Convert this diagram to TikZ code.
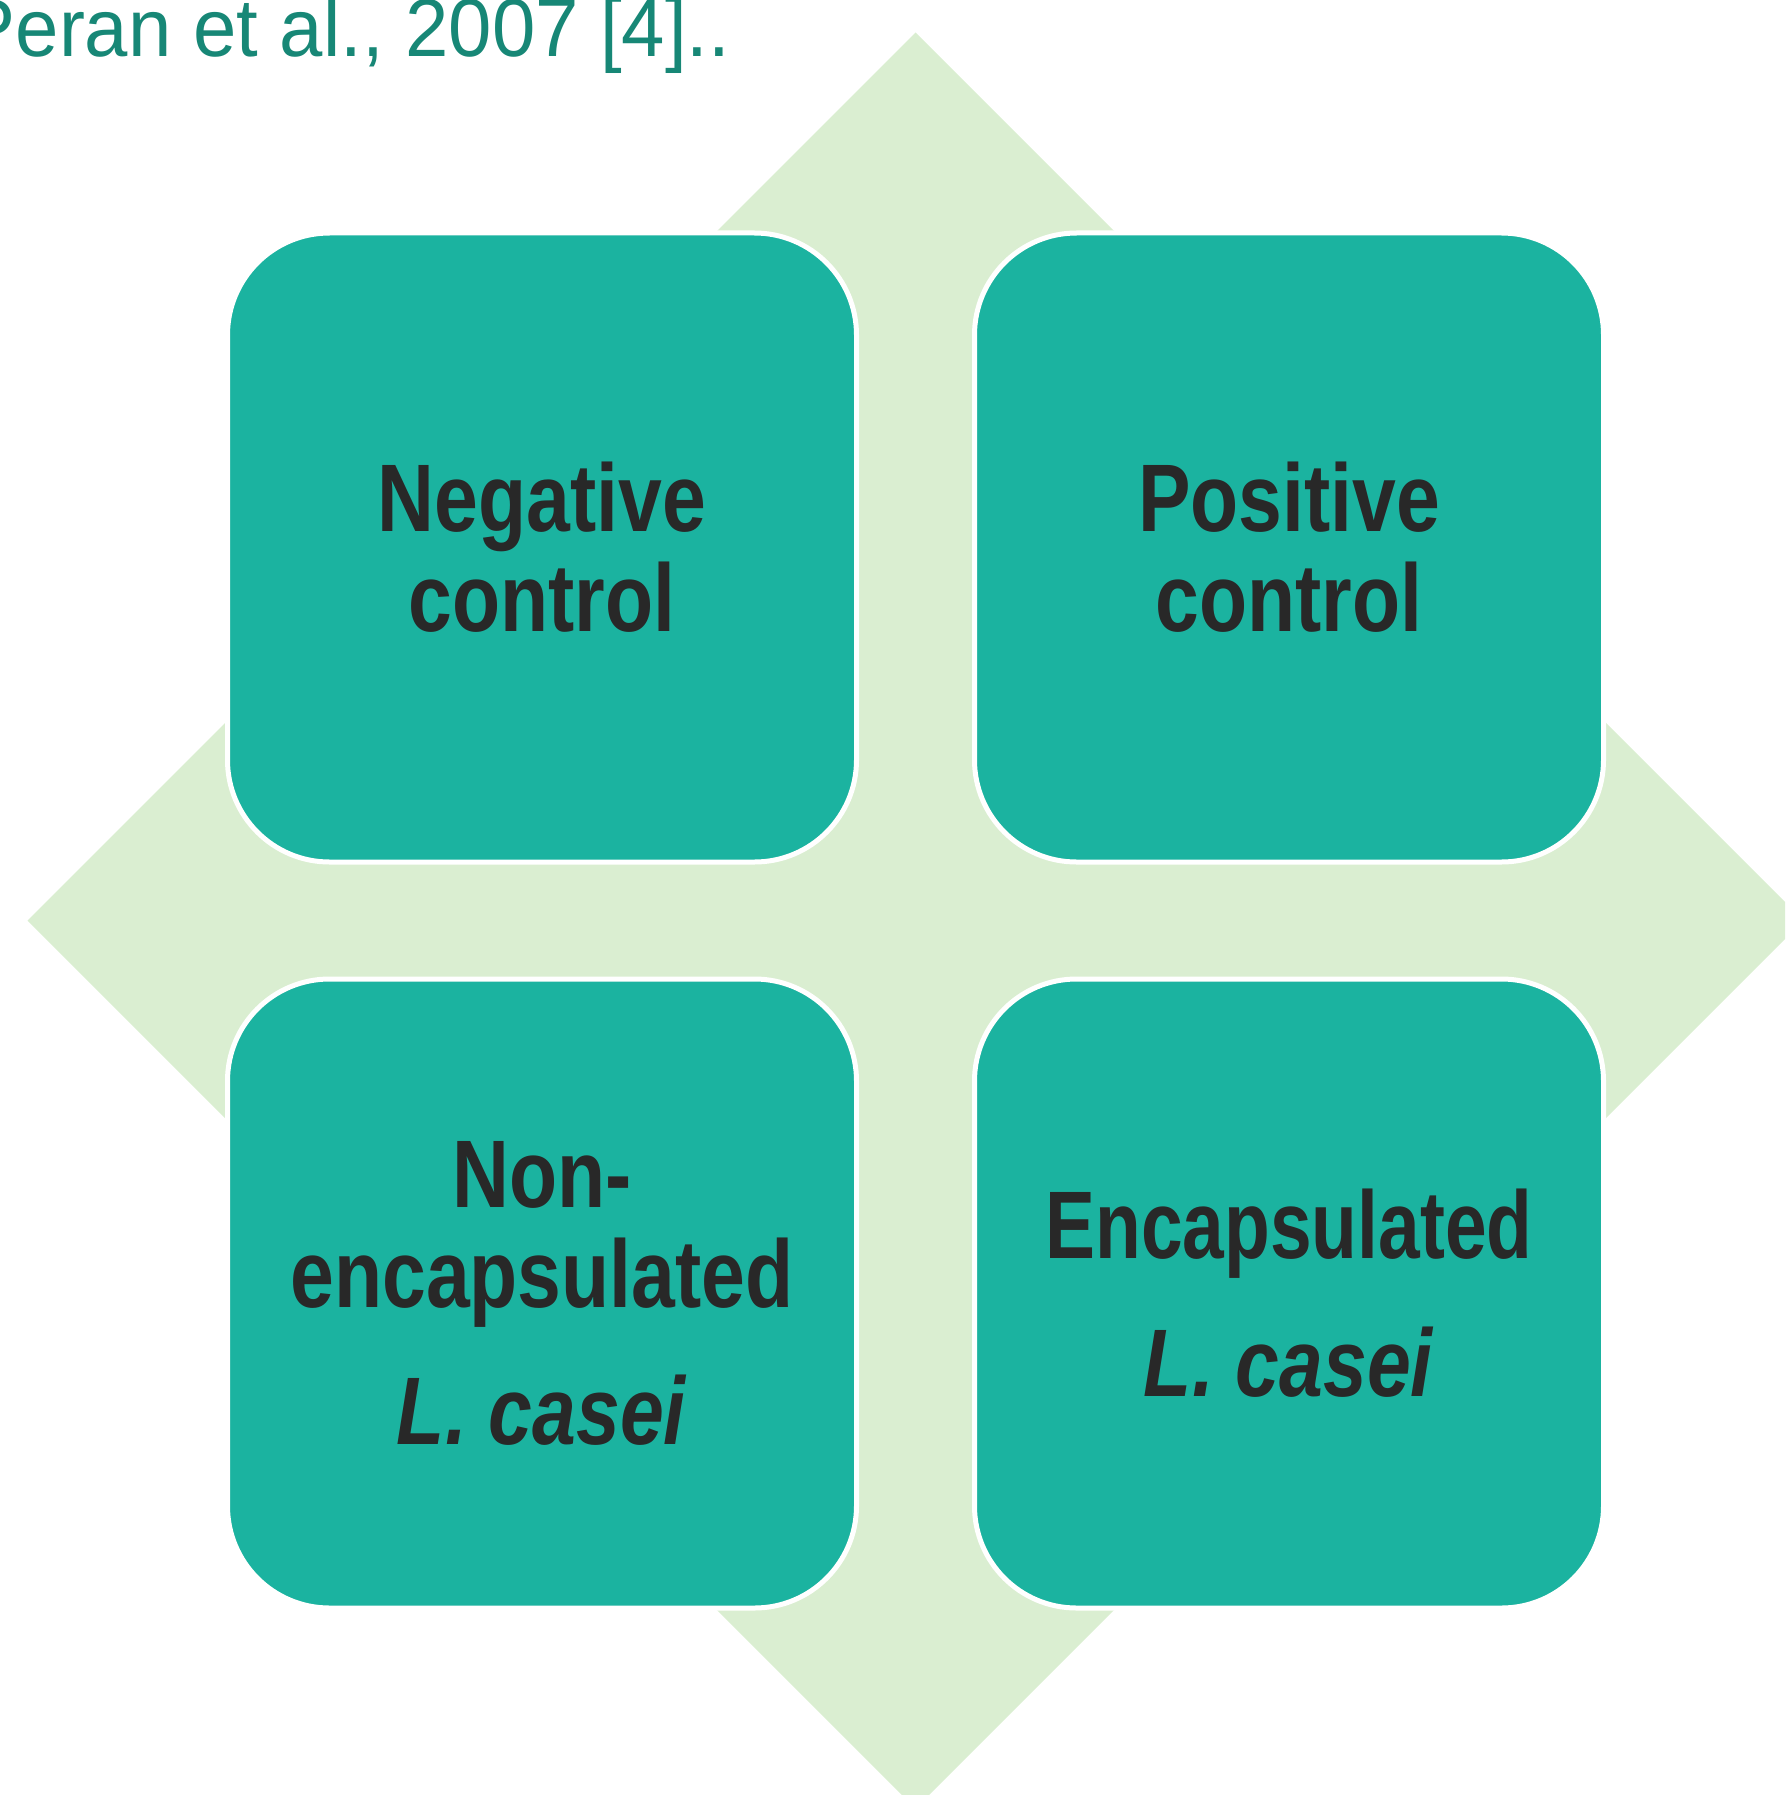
\documentclass[tikz,border=0pt]{standalone}
\usepackage{fontspec}
\setmainfont{Liberation Sans}
\newfontfamily\narrowfont[FakeStretch=0.82]{Liberation Sans}
\newfontfamily\tighterfont[FakeStretch=0.78]{Liberation Sans}
\newfontfamily\citefont[FakeStretch=0.95]{Liberation Sans}
\definecolor{leaf}{RGB}{218,238,209}
\definecolor{tealfill}{RGB}{27,179,160}
\definecolor{ink}{RGB}{40,40,40}
\definecolor{citeteal}{RGB}{23,135,118}
\begin{document}
\begin{tikzpicture}[x=1pt,y=-1pt,
  quad/.style={rectangle, rounded corners=102pt, fill=tealfill, draw=white,
    line width=5pt, minimum width=629pt, minimum height=629pt, inner sep=0pt,
    align=center, text=ink,
    font=\narrowfont\bfseries\fontsize{96}{100}\selectfont}]
  \useasboundingbox (0,0) rectangle (1785,1795);
  \clip (0,0) rectangle (1785,1795);

  % background diamond
  \fill[leaf] (915.5,32.5) -- (1803.5,920.5) -- (915.5,1808.5) -- (27.5,920.5) -- cycle;

  % caption line, partly cut off at the top
  \node[anchor=base east, inner sep=0pt, text=citeteal,
        font=\citefont\fontsize{82}{90}\selectfont] (cite) at (730.5,57) {Peran et al., 2007 [4]..};

  % the four groups
  \node[quad] (neg) at (542,547.5) {Negative\\control};
  \node[quad] (pos) at (1289,547.5) {Positive\\control};
  \node[quad] (nonenc) at (542,1293.5) {Non-\\encapsulated\\[37pt]\textit{L. casei}};
  \node[quad] (enc) at (1289,1293.5) {{\tighterfont\bfseries Encapsulated}\\[38pt]\textit{L. casei}};
\end{tikzpicture}
\end{document}
